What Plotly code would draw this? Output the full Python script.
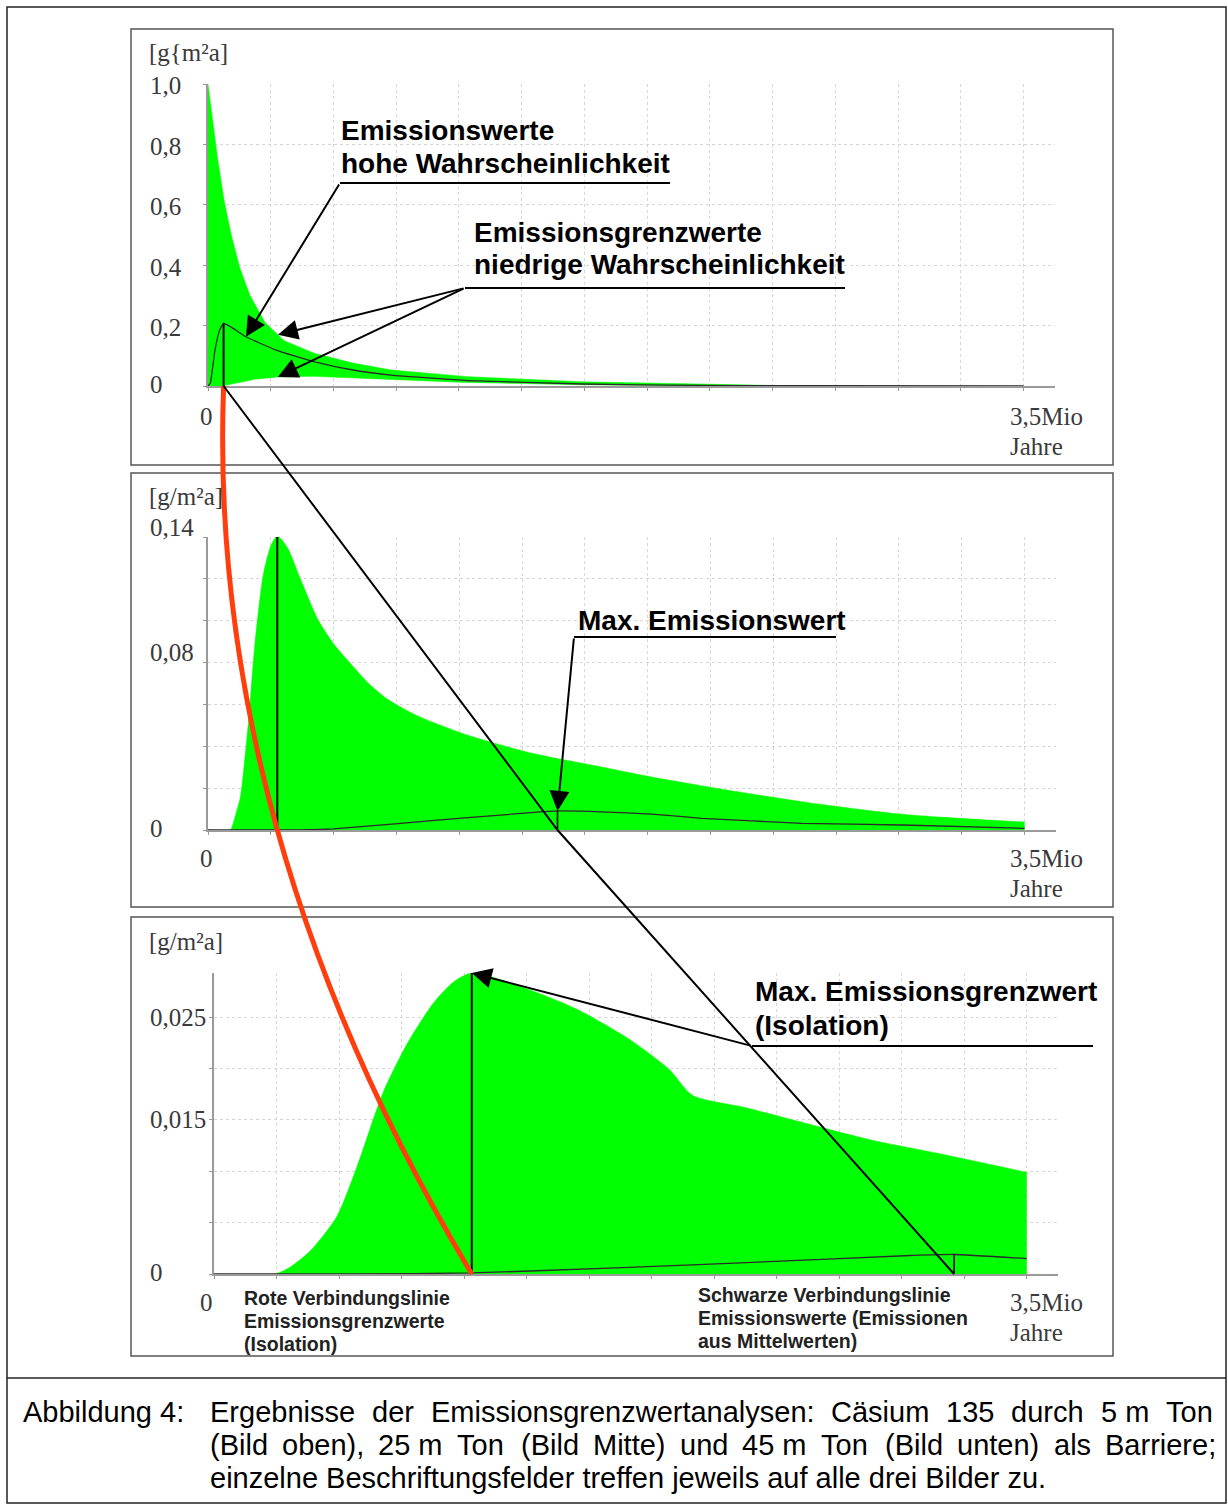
import numpy as np
import plotly.graph_objects as go

W, H = 1228, 1504

# ---------------- data (x in Mio Jahre, y in g/m²a) ----------------
# top panel (5 m Ton)
top_upper_x = [0, 0.02, 0.04, 0.07, 0.10, 0.137, 0.18, 0.245, 0.327, 0.458, 0.622, 0.786, 1.114, 1.607, 2.099, 2.428, 2.55]
top_upper_y = [1.0, 0.87, 0.76, 0.61, 0.50, 0.39, 0.30, 0.21, 0.150, 0.108, 0.076, 0.053, 0.031, 0.014, 0.0066, 0.002, 0.0]
top_lower_x = [0, 0.06, 0.13, 0.20, 0.30, 0.45, 0.62, 0.80, 1.10, 1.60, 2.10, 2.55]
top_lower_y = [0, 0, 0.011, 0.022, 0.030, 0.032, 0.028, 0.021, 0.012, 0.004, 0.001, 0.0]
top_mean_x = [0, 0.01, 0.03, 0.05, 0.067, 0.10, 0.163, 0.292, 0.458, 0.622, 0.786, 1.114, 1.607, 2.099, 2.54, 3.5]
top_mean_y = [0, 0.01, 0.119, 0.185, 0.2075, 0.195, 0.163, 0.119, 0.080, 0.053, 0.036, 0.018, 0.0066, 0.002, 0.001, 0.0003]

# middle panel (25 m Ton)
mid_limit_x = [0, 0.095, 0.11, 0.12, 0.138, 0.172, 0.202, 0.237, 0.270, 0.297, 0.340, 0.396, 0.469, 0.538,
               0.611, 0.684, 0.770, 0.899, 1.114, 1.395, 1.682, 1.897, 2.112, 2.546, 2.976, 3.5]
mid_limit_y = [0, 0, 0.004, 0.008, 0.0153, 0.050, 0.090, 0.122, 0.136, 0.1405, 0.135, 0.120, 0.101, 0.089,
               0.0795, 0.0705, 0.0625, 0.0545, 0.0453, 0.0365, 0.0302, 0.0254, 0.0212, 0.0135, 0.0075, 0.0038]
mid_mean_x = [0, 0.396, 0.538, 0.826, 1.114, 1.398, 1.498, 1.686, 1.901, 2.116, 2.546, 2.976, 3.5]
mid_mean_y = [0, 0, 0.0005, 0.0032, 0.0059, 0.0084, 0.0091, 0.0087, 0.0076, 0.0056, 0.0032, 0.0024, 0.0008]

# bottom panel (45 m Ton)
bot_limit_x = [0, 0.262, 0.33, 0.417, 0.529, 0.615, 0.727, 0.834, 0.946, 1.03, 1.110, 1.342, 1.561, 1.785,
               1.961, 2.060, 2.288, 2.576, 2.839, 3.105, 3.5]
bot_limit_y = [0, 0, 0.0007, 0.0023, 0.0056, 0.0104, 0.0176, 0.0225, 0.0264, 0.0284, 0.0293, 0.0278, 0.0258, 0.0229,
               0.0199, 0.0174, 0.0162, 0.0145, 0.0130, 0.0118, 0.0099]
bot_mean_x = [0, 0.6, 1.11, 1.73, 2.39, 3.0, 3.187, 3.5]
bot_mean_y = [0, 0, 0.0001, 0.0006, 0.0012, 0.0018, 0.0019, 0.0015]

# tick labels
top_ytick_vals = [0, 0.2, 0.4, 0.6, 0.8, 1.0]
top_ytick_text = ["0", "0,2", "0,4", "0,6", "0,8", "1,0"]
mid_ytick_vals = [0, 0.08, 0.14]
mid_ytick_text = ["0", "0,08", "0,14"]
bot_ytick_vals = [0, 0.015, 0.025]
bot_ytick_text = ["0", "0,015", "0,025"]
unit_labels = ["[g{m²a]", "[g/m²a]", "[g/m²a]"]
x_start_label = "0"
x_end_label = ["3,5Mio", "Jahre"]

caption_label = "Abbildung 4:"
caption_lines = [
    "Ergebnisse der Emissionsgrenzwertanalysen: Cäsium 135 durch 5\u00a0m Ton",
    "(Bild oben), 25\u00a0m Ton (Bild Mitte) und 45\u00a0m Ton (Bild unten) als Barriere;",
    "einzelne Beschriftungsfelder treffen jeweils auf alle drei Bilder zu.",
]

X_END = 3.5
X_TICK = X_END / 13
X_RANGE = (0, X_TICK * 13.5)

GREEN = "#00ff00"
RED = "#ff3d0d"
SERIF = "Liberation Serif"
SANS = "Liberation Sans"
GREYTXT = "#3a3a3a"

panels = [
    dict(n="", plot=(208, 84, 1055, 386), yr=(0, 1.0), ydt=0.2, box=(131, 29, 1113, 465)),
    dict(n="2", plot=(208, 537, 1056, 830), yr=(0, 0.1400001), ydt=0.02, box=(131, 473, 1113, 907)),
    dict(n="3", plot=(214, 973, 1058, 1274), yr=(0, 0.0293), ydt=0.005, box=(131, 917, 1113, 1356)),
]


def P(xp, yp):
    return xp / W, 1 - yp / H


def data_px(p, x, y):
    l, t, r, b = p["plot"]
    X = l + (x - X_RANGE[0]) / (X_RANGE[1] - X_RANGE[0]) * (r - l)
    Y = b - (y - p["yr"][0]) / (p["yr"][1] - p["yr"][0]) * (b - t)
    return X, Y


fig = go.Figure()
layout = dict(width=W, height=H, margin=dict(l=0, r=0, t=0, b=0), paper_bgcolor="white",
              plot_bgcolor="rgba(0,0,0,0)", showlegend=False)

tickvals_x = [k * X_TICK for k in range(14)]
for p in panels:
    l, t, r, b = p["plot"]
    n = p["n"]
    layout["xaxis" + n] = dict(domain=[l / W, r / W], range=list(X_RANGE), anchor="y" + n,
                               tickvals=tickvals_x, showticklabels=False, ticks="outside", ticklen=3,
                               tickcolor="#999", showline=True, linecolor="#9a9a9a", linewidth=1.5,
                               showgrid=True, gridcolor="#d6d6d6", griddash="dot", gridwidth=1,
                               zeroline=False, fixedrange=True)
    layout["yaxis" + n] = dict(domain=[1 - b / H, 1 - t / H], range=list(p["yr"]), anchor="x" + n,
                               tick0=0, dtick=p["ydt"], showticklabels=False, ticks="outside", ticklen=3,
                               tickcolor="#999", showline=True, linecolor="#9a9a9a", linewidth=1.5,
                               showgrid=True, gridcolor="#d6d6d6", griddash="dot", gridwidth=1,
                               zeroline=False, fixedrange=True)
fig.update_layout(**layout)


def add(tr, n):
    tr.update(xaxis="x" + n, yaxis="y" + n, hoverinfo="skip", showlegend=False)
    fig.add_trace(tr)


# top panel band
poly_x = list(top_upper_x) + list(top_lower_x)[::-1]
poly_y = list(top_upper_y) + list(top_lower_y)[::-1]
add(go.Scatter(x=poly_x, y=poly_y, fill="toself", fillcolor=GREEN, mode="lines",
               line=dict(color=GREEN, width=0.5)), "")
add(go.Scatter(x=mid_limit_x, y=mid_limit_y, fill="tozeroy", fillcolor=GREEN, mode="lines",
               line=dict(color=GREEN, width=0.5, shape="spline", smoothing=0.7)), "2")
add(go.Scatter(x=bot_limit_x, y=bot_limit_y, fill="tozeroy", fillcolor=GREEN, mode="lines",
               line=dict(color=GREEN, width=0.5, shape="spline", smoothing=0.7)), "3")

for xs, ys, n in [(top_mean_x, top_mean_y, ""), (mid_mean_x, mid_mean_y, "2"), (bot_mean_x, bot_mean_y, "3")]:
    add(go.Scatter(x=xs, y=ys, mode="lines", line=dict(color="#2a2a2a", width=1.3, shape="spline", smoothing=0.4)), n)


def peak(xs, ys):
    i = int(np.argmax(ys))
    return xs[i], ys[i]


top_pk = peak(top_mean_x, top_mean_y)
mid_pk_g = peak(mid_limit_x, mid_limit_y)
mid_pk_b = peak(mid_mean_x, mid_mean_y)
bot_pk_g = peak(bot_limit_x, bot_limit_y)
bot_pk_b = peak(bot_mean_x, bot_mean_y)

for (px_, py_), n, w in [(top_pk, "", 2), (mid_pk_g, "2", 2), (mid_pk_b, "2", 1.6), (bot_pk_g, "3", 2), (bot_pk_b, "3", 1.6)]:
    add(go.Scatter(x=[px_, px_], y=[0, py_], mode="lines", line=dict(color="black", width=w)), n)

shapes = []
# outer frame and separator
x0, y0 = P(7, 7)
x1, y1 = P(1226, 1503)
shapes.append(dict(type="rect", xref="paper", yref="paper", x0=x0, y0=y0, x1=x1, y1=y1,
                   line=dict(color="#222", width=1.5), layer="below"))
sx0, sy = P(7, 1378)
sx1, _ = P(1226, 1378)
shapes.append(dict(type="line", xref="paper", yref="paper", x0=sx0, y0=sy, x1=sx1, y1=sy,
                   line=dict(color="#222", width=1.5)))
for p in panels:
    bl, bt, br, bb = p["box"]
    a, c = P(bl, bt)
    d, e = P(br, bb)
    shapes.append(dict(type="rect", xref="paper", yref="paper", x0=a, y0=e, x1=d, y1=c,
                       line=dict(color="#555", width=1.5), layer="below"))

# connectors
r0 = data_px(panels[0], top_pk[0], 0)
r1 = data_px(panels[1], mid_pk_g[0], 0)
r2 = data_px(panels[2], bot_pk_g[0], 0)
rc = (2 * r1[0] - (r0[0] + r2[0]) / 2, 2 * r1[1] - (r0[1] + r2[1]) / 2)
pp = [P(*r0), P(*rc), P(*r2)]
shapes.append(dict(type="path", xref="paper", yref="paper",
                   path=f"M {pp[0][0]},{pp[0][1]} Q {pp[1][0]},{pp[1][1]} {pp[2][0]},{pp[2][1]}",
                   line=dict(color=RED, width=5)))
b1 = data_px(panels[1], mid_pk_b[0], 0)
b2 = data_px(panels[2], bot_pk_b[0], 0)
bp = [P(*r0), P(*b1), P(*b2)]
shapes.append(dict(type="path", xref="paper", yref="paper",
                   path=f"M {bp[0][0]},{bp[0][1]} L {bp[1][0]},{bp[1][1]} L {bp[2][0]},{bp[2][1]}",
                   line=dict(color="black", width=2)))

# underlines
for (ax_, ay_, ex) in [(340, 183, 670), (465, 288, 845), (574, 637, 836), (752, 1046, 1093)]:
    a, c = P(ax_, ay_)
    d, _ = P(ex, ay_)
    shapes.append(dict(type="line", xref="paper", yref="paper", x0=a, y0=c, x1=d, y1=c,
                       line=dict(color="black", width=2)))

fig.update_layout(shapes=shapes)

ann = []


def arrow(head_px, tail_px):
    hx, hy = P(*head_px)
    ann.append(dict(xref="paper", yref="paper", x=hx, y=hy, ax=tail_px[0] - head_px[0],
                    ay=tail_px[1] - head_px[1], axref="pixel", ayref="pixel", text="",
                    showarrow=True, arrowhead=2, arrowsize=2.0, arrowwidth=2, arrowcolor="black",
                    standoff=0, startstandoff=0))


arrow(data_px(panels[0], 0.163, float(np.interp(0.163, top_mean_x, top_mean_y))), (340, 183))
arrow(data_px(panels[0], 0.30, float(np.interp(0.30, top_upper_x, top_upper_y))), (465, 288))
arrow(data_px(panels[0], 0.30, float(np.interp(0.30, top_lower_x, top_lower_y))), (465, 288))
arrow(data_px(panels[1], mid_pk_b[0], mid_pk_b[1]), (574, 637))
arrow(data_px(panels[2], bot_pk_g[0], bot_pk_g[1]), (752, 1046))


def text(s, xp, yp, size, family, color="black", bold=False, anchor="left"):
    x, y = P(xp, yp)
    ann.append(dict(xref="paper", yref="paper", x=x, y=y, text=(f"<b>{s}</b>" if bold else s),
                    showarrow=False, xanchor=anchor, yanchor="middle",
                    font=dict(size=size, family=family, color=color)))


# bold callouts
BIG = 28
text("Emissionswerte", 339, 130, BIG, SANS, bold=True)
text("hohe Wahrscheinlichkeit", 339, 163, BIG, SANS, bold=True)
text("Emissionsgrenzwerte", 472, 232, BIG, SANS, bold=True)
text("niedrige Wahrscheinlichkeit", 472, 265, BIG, SANS, bold=True)
text("Max. Emissionswert", 576, 620, BIG, SANS, bold=True)
text("Max. Emissionsgrenzwert", 753, 992, BIG, SANS, bold=True)
text("(Isolation)", 753, 1025, BIG, SANS, bold=True)
SMALL = 19.5
for i, s in enumerate(["Rote Verbindungslinie", "Emissionsgrenzwerte", "(Isolation)"]):
    text(s, 242, 1298 + 23 * i, SMALL, SANS, color="#222", bold=True)
for i, s in enumerate(["Schwarze Verbindungslinie", "Emissionswerte (Emissionen", "aus Mittelwerten)"]):
    text(s, 696, 1295 + 23 * i, SMALL, SANS, color="#222", bold=True)

# axis labels (serif)
label_y = [53, 497, 941]
x0_label_y = [416, 858, 1302]
for p, u, ly, xl in zip(panels, unit_labels, label_y, x0_label_y):
    text(u, 147, ly, 25, SERIF, GREYTXT)
    text(x_start_label, 206, xl, 25, SERIF, GREYTXT, anchor="center")
    text(x_end_label[0], 1008, xl, 25, SERIF, GREYTXT)
    text(x_end_label[1], 1008, xl + 30, 25, SERIF, GREYTXT)

shifts = [-2, 10, 0]
for p, vals, txts, sh in zip(panels, [top_ytick_vals, mid_ytick_vals, bot_ytick_vals],
                             [top_ytick_text, mid_ytick_text, bot_ytick_text], shifts):
    for v, t in zip(vals, txts):
        ann.append(dict(xref="paper", yref="y" + p["n"], x=148 / W, y=v, text=t, showarrow=False,
                        xanchor="left", yanchor="middle", yshift=(sh if v != 0 else 2),
                        font=dict(size=25, family=SERIF, color=GREYTXT)))

# caption (justified like the original: words placed by approximate Arial metrics)
HELV = {" ": 278, "a": 556, "b": 556, "c": 500, "d": 556, "e": 556, "f": 278, "g": 556, "h": 556, "i": 222,
        "j": 222, "k": 500, "l": 222, "m": 833, "n": 556, "o": 556, "p": 556, "q": 556, "r": 333, "s": 500,
        "t": 278, "u": 556, "v": 500, "w": 722, "x": 500, "y": 500, "z": 500, "A": 667, "B": 667, "C": 722,
        "D": 722, "E": 667, "M": 833, "T": 611, "ä": 556, ",": 278, ".": 278, ":": 278, ";": 278, "(": 333,
        ")": 333, "\u00a0": 278}


def tw(s, size):
    return sum(HELV.get(ch, 556) for ch in s) / 1000 * size


CAP = 29
text(caption_label, 21, 1412, CAP, SANS)
cap_y = [1412, 1445, 1478]
for i, (line, yy) in enumerate(zip(caption_lines, cap_y)):
    words = line.split(" ")
    if i < len(caption_lines) - 1:
        total = sum(tw(w_, CAP) for w_ in words)
        gap = (1214 - 208 - total) / (len(words) - 1)
        xx = 208
        for w_ in words:
            text(w_.replace("\u00a0", " "), xx, yy, CAP, SANS)
            xx += tw(w_, CAP) + gap
    else:
        text(line, 208, yy, CAP, SANS)

fig.update_layout(annotations=ann)
fig.write_html("out.html", config={"displayModeBar": False},
               post_script="document.body.style.margin='0';document.body.style.overflow='hidden';")
